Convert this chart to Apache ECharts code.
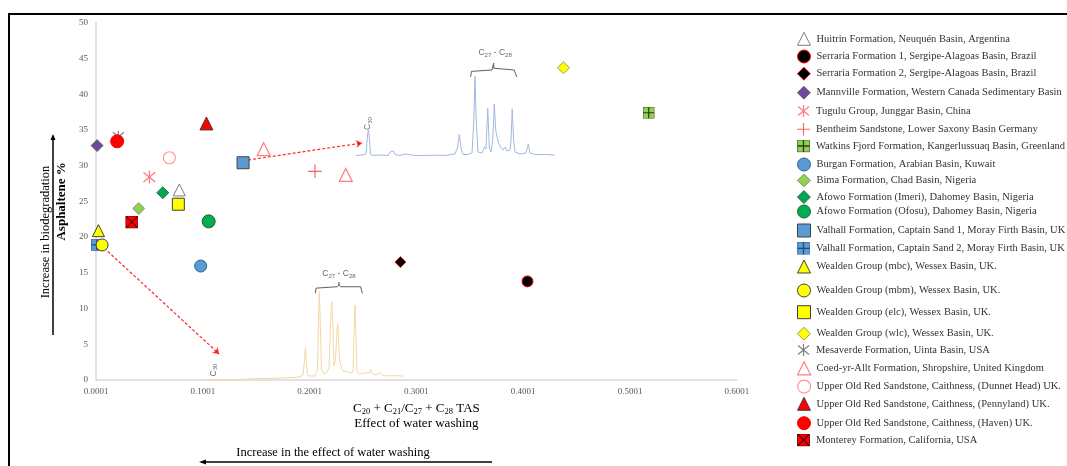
<!DOCTYPE html>
<html><head><meta charset="utf-8">
<script src="https://cdn.jsdelivr.net/npm/echarts@6/dist/echarts.min.js"></script>
<style>html,body{margin:0;padding:0;background:#fff}#c{width:1067px;height:466px}</style>
</head><body><div id="c"></div>
<script>
// ---------- DATA ----------
const formations = [
  'Huitrin Formation, Neuquén Basin, Argentina',
  'Serraria Formation 1, Sergipe-Alagoas Basin, Brazil',
  'Serraria Formation 2, Sergipe-Alagoas Basin, Brazil',
  'Mannville Formation, Western Canada Sedimentary Basin',
  'Tugulu Group, Junggar Basin, China',
  'Bentheim Sandstone, Lower Saxony Basin Germany',
  'Watkins Fjord Formation, Kangerlussuaq Basin, Greenland',
  'Burgan Formation, Arabian Basin, Kuwait',
  'Bima Formation, Chad Basin, Nigeria',
  'Afowo Formation (Imeri), Dahomey Basin, Nigeria',
  'Afowo Formation (Ofosu), Dahomey Basin, Nigeria',
  'Valhall Formation, Captain Sand 1, Moray Firth Basin, UK',
  'Valhall Formation, Captain Sand 2, Moray Firth Basin, UK',
  'Wealden Group (mbc), Wessex Basin, UK.',
  'Wealden Group (mbm), Wessex Basin, UK.',
  'Wealden Group (elc), Wessex Basin, UK.',
  'Wealden Group (wlc), Wessex Basin, UK.',
  'Mesaverde Formation, Uinta Basin, USA',
  'Coed-yr-Allt Formation, Shropshire, United Kingdom',
  'Upper Old Red Sandstone, Caithness, (Dunnet Head) UK.',
  'Upper Old Red Sandstone, Caithness, (Pennyland) UK.',
  'Upper Old Red Sandstone, Caithness, (Haven) UK.',
  'Monterey Formation, California, USA'
];
// C20 + C21 / C27 + C28 TAS ratio (x) for each formation
const tasRatio = [
  [0.078],[0.404],[0.285],[0.001],[0.050],[0.205],[0.5175],[0.098],[0.040],[0.0625],[0.1055],
  [0.1377],[0.0008],[0.0023],[0.0057],[0.0771],[0.4377],[0.021],[0.157,0.2339],[0.0687],[0.1034],[0.0198],[0.0335]
];
// Asphaltene % (y) for each formation
const asphaltenePct = [
  [26.6],[13.8],[16.5],[32.8],[28.4],[29.2],[37.4],[15.95],[24.0],[26.2],[22.2],
  [30.4],[18.9],[20.9],[18.9],[24.6],[43.7],[34.05],[32.3,28.7],[31.1],[35.9],[33.4],[22.1]
];
const xTickLabels = ['0.0001','0.1001','0.2001','0.3001','0.4001','0.5001','0.6001'];
const yTickLabels = ['0','5','10','15','20','25','30','35','40','45','50'];

// chromatogram insets (relative retention, relative intensity)
const blueRT = [0,3.0,5.0,5.8,6.2,6.6,7.3,8.5,12.1,16.1,17.1,17.6,18.1,18.8,19.6,22.1,24.6,25.6,29.6,34.7,39.7,44.7,49.7,51.0,51.9,52.8,53.8,56.3,58.3,59.2,59.8,60.4,61.3,63.3,64.6,65.3,66.2,67.0,67.8,68.7,69.5,70.2,70.9,71.6,72.6,73.9,75.1,75.9,77.4,77.9,78.5,79.2,79.9,82.4,85.4,86.6,87.4,89.9,95.0,100];
const blueInt = [0,0.6,1.9,26,32,26,1.9,0,0.6,0,4.4,6.3,3.2,5.7,1.3,0,1.9,0.6,0,0,0.4,0,1.9,9.5,26.6,9.5,1.3,1.3,3.2,44.9,100,44.9,4.4,3.2,10.8,8.2,59.5,9.5,4.4,19.6,65.2,32.3,23.4,15.8,10.8,7.0,10.8,5.7,7.0,19.6,59.0,19.6,4.4,1.9,3.2,14.2,3.2,1.3,1.3,0.6];
const orangeRT = [0,6,13.5,23.5,28.5,33.5,38.5,43.5,46.5,47.5,48.5,50,50.75,51.15,51.6,52.25,53.5,56,57.25,57.75,58.15,58.6,59.25,60.5,62,63,63.75,64.35,64.9,65.5,66.25,66.9,67.35,67.8,68.25,68.85,69.5,70.5,72,73.5,75,75.6,76,76.4,77,78.5,80.5,81.5,83,83.85,84.75,86.5,88.5,90,93.5,96,98.5,99.5,100];
const orangeInt = [0,0.2,0.8,1.7,2.3,2.3,2.8,3.4,3.4,5.1,4.5,6.2,23.1,36.9,23.1,6.2,5.1,5.1,11.8,68.1,100,68.1,11.8,7.3,9.6,14.1,62.5,89.5,62.5,16.3,23.1,51.2,64.4,45.6,23.1,21.2,13.0,9.6,10.7,8.4,9.6,56.9,85.0,56.9,9.6,7.3,8.4,6.2,8.4,13.0,7.3,6.2,9.0,5.6,5.1,5.6,5.1,6.8,5.1];
const blueBracketRT  = [57.6,58.0,59.0,68.3,69.2,69.2,69.2,70.1,79.5,80.4,80.8];
const blueBracketInt = [99.4,106.5,108.2,108.2,110.5,117,110.5,108.2,108.2,106.5,99.4];
const orangeBracketRT  = [56.15,56.5,57.4,67.2,68,68,68,68.8,78.8,79.4,79.65];
const orangeBracketInt = [98.2,104,105.6,105.6,108,110.5,108,105.6,105.6,104,98.2];
// arrows linking samples to chromatograms (TAS, asphaltene %)
const arrowFrom = [[0.1424,30.79],[0.0076,18.47]];
const arrowTo   = [[0.2492,33.17],[0.1153,3.64]];

// ---------- STYLES ----------
const svg = inner => 'image://data:image/svg+xml;charset=utf-8,' + encodeURIComponent(
  "<svg xmlns='http://www.w3.org/2000/svg' width='26' height='26' viewBox='0 0 26 26'>" + inner + "</svg>");
const asterisk = c => svg(`<g stroke='${c}' stroke-width='2.4' fill='none'><line x1='13' y1='1' x2='13' y2='25'/><line x1='2' y1='4' x2='24' y2='22'/><line x1='2' y1='22' x2='24' y2='4'/></g>`);
const plus = c => svg(`<g stroke='${c}' stroke-width='2.2' fill='none'><line x1='13' y1='0' x2='13' y2='26'/><line x1='0' y1='13' x2='26' y2='13'/></g>`);
const sqPlus = (f, l) => svg(`<rect x='1' y='1' width='24' height='24' fill='${f}' stroke='${l}' stroke-width='1.2'/><g stroke='${l}' stroke-width='2.6'><line x1='13' y1='1' x2='13' y2='25'/><line x1='1' y1='13' x2='25' y2='13'/></g>`);
const sqX = (f, l) => svg(`<rect x='1' y='1' width='24' height='24' fill='${f}' stroke='${l}' stroke-width='1.6'/><g stroke='${l}' stroke-width='2.4'><line x1='2' y1='2' x2='24' y2='24'/><line x1='2' y1='24' x2='24' y2='2'/></g>`);

const styles = [
  {s:'triangle', z:12, c:'#ffffff', b:'#7f7f7f', w:1},
  {s:'circle', z:11, c:'#000000', b:'#ff0000', w:1},
  {s:'diamond', z:11, c:'#000000', b:'#ff0000', w:0.8},
  {s:'diamond', z:12, c:'#7148a0', b:'#595959', w:0.8},
  {s:asterisk('#ff7c80'), z:14},
  {s:plus('#ff6161'), z:14},
  {s:sqPlus('#92d050','#2b3b1f'), z:12},
  {s:'circle', z:12, c:'#5b9bd5', b:'#2f5f8f', w:1},
  {s:'diamond', z:12, c:'#92d050', b:'#7f7f7f', w:0.8},
  {s:'diamond', z:12, c:'#00a550', b:'#1e5c36', w:0.8},
  {s:'circle', z:13, c:'#00b050', b:'#1e5c36', w:1},
  {s:'rect', z:12, c:'#5b9bd5', b:'#404040', w:1},
  {s:sqPlus('#5b9bd5','#1f4e79'), z:12},
  {s:'triangle', z:12, c:'#ffff00', b:'#404040', w:1},
  {s:'circle', z:12, c:'#ffff00', b:'#404040', w:1},
  {s:'rect', z:12, c:'#ffff00', b:'#404040', w:1},
  {s:'diamond', z:12, c:'#ffff00', b:'#7f7f7f', w:0.8},
  {s:asterisk('#7f7f7f'), z:13},
  {s:'triangle', z:13, c:'#ffffff', b:'#ff7c80', w:1.2},
  {s:'circle', z:12, c:'#ffffff', b:'#ff9999', w:1.2},
  {s:'triangle', z:13, c:'#ff0000', b:'#404040', w:1},
  {s:'circle', z:13, c:'#ff0000', b:'#ff0000', w:1},
  {s:sqX('#ff0000','#5a0000'), z:13}
];
const legendY = [38.3,56,73.3,92.3,111,129.3,146,164,180,196.7,211,230,248.3,266,290,311.7,333.3,350,367.7,386,403.3,422.7,440];

const SERIF = 'Liberation Serif';
const SANS = 'Liberation Sans';

const scatterSeries = formations.map((name, i) => {
  const st = styles[i];
  return {
    name, type:'scatter', xAxisIndex:0, yAxisIndex:0,
    data: tasRatio[i].map((x, k) => [x, asphaltenePct[i][k]]),
    symbol: st.s, symbolSize: st.z,
    itemStyle: st.b ? {color: st.c, borderColor: st.b, borderWidth: st.w, opacity:1} : {color:'#000', opacity:1},
    emphasis:{disabled:true}, z: 5
  };
});

const legends = formations.map((name, i) => ({
  data:[name], left:797, top: legendY[i] - 6.5, orient:'horizontal',
  itemWidth:13, itemHeight:13, itemGap:0, padding:0, selectedMode:false,
  itemStyle: styles[i].b ? {borderWidth: styles[i].w} : {},
  textStyle:{fontFamily:SERIF, fontSize:10.5, color:'#333', padding:[0,0,0,1]}
}));

const zip = (a, b) => a.map((v, i) => [v, b[i]]);
const subRich = (size) => ({
  c:{fontFamily:SANS, fontSize:size, color:'#404040', lineHeight:11},
  s:{fontFamily:SANS, fontSize:size*0.72, color:'#404040', lineHeight:6, verticalAlign:'bottom'}
});

const option = {
  animation:false,
  backgroundColor:'#ffffff',
  grid:[
    {left:96, right:330.2, top:22.7, bottom:86, containLabel:false},
    {left:356, right:512, top:76.5, bottom:310.5, containLabel:false},
    {left:203, right:664, top:291.7, bottom:85.5, containLabel:false}
  ],
  xAxis:[
    {type:'value', gridIndex:0, min:0, max:0.6, interval:0.1,
     axisLine:{show:true, lineStyle:{color:'#d9d9d9', width:1.5}},
     axisTick:{show:false}, splitLine:{show:false},
     axisLabel:{fontFamily:SERIF, fontSize:9, color:'#595959', margin:7,
       formatter:(v, idx) => xTickLabels[Math.round(v / 0.1)]},
     name:'{n|C}{s|20}{n| + C}{s|21}{n|/C}{s|27}{n| + C}{s|28}{n| TAS}\n{n|Effect of water washing}',
     nameLocation:'middle', nameGap:17,
     nameTextStyle:{fontFamily:SERIF, fontSize:12.5, color:'#000', lineHeight:15,
       rich:{n:{fontFamily:SERIF, fontSize:13, color:'#000', lineHeight:15},
             s:{fontFamily:SERIF, fontSize:8.5, color:'#000', lineHeight:8, verticalAlign:'bottom'}}}
    },
    {type:'value', gridIndex:1, min:0, max:100, show:false},
    {type:'value', gridIndex:2, min:0, max:100, show:false}
  ],
  yAxis:[
    {type:'value', gridIndex:0, min:0, max:50, interval:5,
     axisLine:{show:true, lineStyle:{color:'#d9d9d9', width:1.5}},
     axisTick:{show:false}, splitLine:{show:false},
     axisLabel:{fontFamily:SERIF, fontSize:9, color:'#595959', margin:8,
       formatter:(v) => yTickLabels[Math.round(v / 5)]},
     name:'Asphaltene %', nameLocation:'middle', nameGap:25, nameRotate:90,
     nameTextStyle:{fontFamily:SERIF, fontSize:13, fontWeight:'bold', color:'#000'}
    },
    {type:'value', gridIndex:1, min:0, max:100, show:false},
    {type:'value', gridIndex:2, min:0, max:100, show:false}
  ],
  legend: legends,
  series:[
    {name:'chrom-blue', type:'line', xAxisIndex:1, yAxisIndex:1, data:zip(blueRT, blueInt),
     symbol:'none', lineStyle:{color:'#a3b8df', width:1}, clip:false, z:1, silent:true},
    {name:'chrom-blue-bracket', type:'line', xAxisIndex:1, yAxisIndex:1, data:zip(blueBracketRT, blueBracketInt),
     symbol:'none', lineStyle:{color:'#606060', width:1}, clip:false, z:1, silent:true},
    {name:'chrom-orange', type:'line', xAxisIndex:2, yAxisIndex:2, data:zip(orangeRT, orangeInt),
     symbol:'none', lineStyle:{color:'#f3d9a4', width:1}, clip:false, z:1, silent:true},
    {name:'chrom-orange-bracket', type:'line', xAxisIndex:2, yAxisIndex:2, data:zip(orangeBracketRT, orangeBracketInt),
     symbol:'none', lineStyle:{color:'#606060', width:1}, clip:false, z:1, silent:true},
    {name:'chrom-labels-blue', type:'scatter', xAxisIndex:1, yAxisIndex:1, symbolSize:0, silent:true, clip:false,
     data:[
       {value:[69.9,129.7], label:{show:true, position:'inside', formatter:'{c|C}{s|27}{c| - C}{s|28}', rich:subRich(8.5)}},
       {value:[6.0,40.5], label:{show:true, position:'inside', rotate:90, formatter:'{c|C}{s|30}', rich:subRich(8.5)}}
     ]},
    {name:'chrom-labels-orange', type:'scatter', xAxisIndex:2, yAxisIndex:2, symbolSize:0, silent:true, clip:false,
     data:[
       {value:[68,119.9], label:{show:true, position:'inside', formatter:'{c|C}{s|27}{c| - C}{s|28}', rich:subRich(8.5)}},
       {value:[5.15,11.8], label:{show:true, position:'inside', rotate:90, formatter:'{c|C}{s|30}', rich:subRich(8.5)}}
     ]},
    {name:'arrows', type:'lines', coordinateSystem:'cartesian2d', xAxisIndex:0, yAxisIndex:0,
     data: arrowFrom.map((f, i) => ({coords:[f, arrowTo[i]]})),
     symbol:['none','arrow'], symbolSize:6,
     lineStyle:{color:'#ff0000', width:1.2, type:[3,2], opacity:0.85}, z:3, silent:true},
    ...scatterSeries
  ],
  graphic:[
    {type:'rect', shape:{x:9, y:14, width:1200, height:600}, style:{fill:'none', stroke:'#000', lineWidth:2}, silent:true},
    {type:'text', x:46, y:232, rotation:Math.PI/2,
     style:{text:'Increase in biodegradation', fontFamily:SERIF, fontSize:12.5, fill:'#000', align:'center', verticalAlign:'middle'}},
    {type:'line', shape:{x1:53, y1:335, x2:53, y2:139}, style:{stroke:'#000', lineWidth:1.5}},
    {type:'polygon', shape:{points:[[53,134],[50.5,140],[55.5,140]]}, style:{fill:'#000'}},
    {type:'text', x:333, y:453,
     style:{text:'Increase in the effect of water washing', fontFamily:SERIF, fontSize:12.5, fill:'#000', align:'center', verticalAlign:'middle'}},
    {type:'line', shape:{x1:205, y1:462, x2:492, y2:462}, style:{stroke:'#000', lineWidth:1.5}},
    {type:'polygon', shape:{points:[[199,462],[206,459.5],[206,464.5]]}, style:{fill:'#000'}}
  ]
};
const chart = echarts.init(document.getElementById('c'), null, {renderer:'canvas'});
chart.setOption(option);
</script>
</body></html>
